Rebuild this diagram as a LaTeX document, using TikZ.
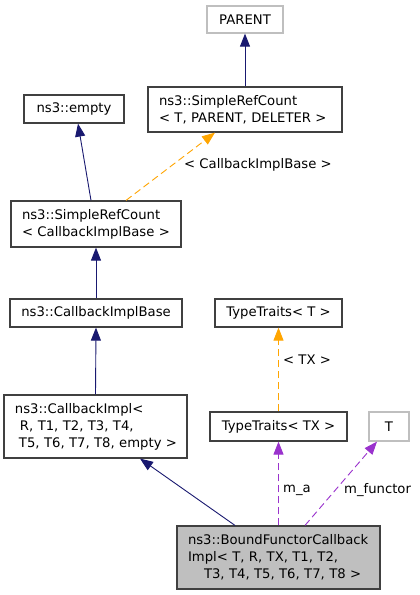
\documentclass[tikz,border=0pt]{standalone}
\usepackage{fontspec}
\setmainfont{DejaVu Sans}
\usetikzlibrary{arrows.meta,calc}
\definecolor{navy}{HTML}{191970}
\definecolor{orng}{HTML}{FFA500}
\definecolor{orchid}{HTML}{9A32CD}
\definecolor{boxline}{HTML}{404040}
\definecolor{lightline}{HTML}{BFBFBF}
\definecolor{focusfill}{HTML}{BFBFBF}
\tikzset{
  cls/.style={draw=boxline, line width=1.2pt, rectangle, inner xsep=0pt, inner ysep=0pt, align=center},
  clsml/.style={draw=boxline, line width=1.2pt, rectangle, inner xsep=11pt, inner ysep=0pt, align=left},
  ghost/.style={draw=lightline, line width=1.2pt, rectangle, inner sep=0pt, align=center},
  inh/.style={draw=navy, line width=0.9pt, -{Triangle[length=13pt,width=10pt]}, navy},
  tmpl/.style={draw=orng, line width=0.9pt, dash pattern=on 7pt off 4pt, -{Triangle[length=13pt,width=10pt,fill=orng]}},
  usage/.style={draw=orchid, line width=0.9pt, dash pattern=on 7pt off 4pt, -{Triangle[length=13pt,width=10pt,fill=orchid]}},
  lbl/.style={anchor=west, inner sep=0pt, font=\fontsize{13.2}{17}\selectfont},
}
\begin{document}
\begin{tikzpicture}[x=1pt,y=-1pt, font=\fontsize{13.2}{17}\selectfont]
\useasboundingbox (0,0) rectangle (420,595);
\fill[white] (0,0) rectangle (420,595);

\node[ghost, minimum width=76pt, minimum height=27pt] (parent) at (245,19.5) {PARENT};
\node[clsml, text width=172pt, minimum height=45pt] (srcT) at (245,109.5) {\mbox{ns3::SimpleRefCount}\\\mbox{< T, PARENT, DELETER >}};
\node[cls, minimum width=100pt, minimum height=28pt] (empty) at (74,109) {ns3::empty};
\node[clsml, text width=148pt, minimum height=46pt] (srcCB) at (96,224) {\mbox{ns3::SimpleRefCount}\\\mbox{< CallbackImplBase >}};
\node[cls, minimum width=172pt, minimum height=28pt] (cbbase) at (96,313) {ns3::CallbackImplBase};
\node[cls, minimum width=127pt, minimum height=28pt] (ttT) at (278.5,313) {TypeTraits< T >};
\node[clsml, text width=161pt, minimum height=63pt] (cbimpl) at (95.5,426.5) {\mbox{ns3::CallbackImpl<}\\\mbox{\hspace*{5pt}R, T1, T2, T3, T4,}\\\mbox{\hspace*{4pt}T5, T6, T7, T8, empty >}};
\node[cls, minimum width=137pt, minimum height=29pt] (ttTX) at (278.5,426.5) {TypeTraits< TX >};
\node[ghost, minimum width=40pt, minimum height=29pt] (tT) at (389,426.5) {T};
\node[clsml, fill=focusfill, text width=181pt, minimum height=63pt] (bound) at (278.5,557.5) {\mbox{ns3::BoundFunctorCallback}\\\mbox{Impl< T, R, TX, T1, T2,}\\\mbox{\hspace*{16pt}T3, T4, T5, T6, T7, T8 >}};

\draw[inh] (srcT.north) -- (parent.south);
\draw[inh] ([xshift=-5pt]srcCB.north) -- ([xshift=4pt]empty.south);
\draw[tmpl] ([xshift=30pt]srcCB.north) -- ([xshift=-30pt]srcT.south);
\draw[inh] (cbbase.north) -- (srcCB.south);
\draw[inh] (cbimpl.north) -- (cbbase.south);
\draw[inh] ([xshift=-43.5pt]bound.north) -- ([xshift=44.5pt]cbimpl.south);
\draw[tmpl] (ttTX.north) -- (ttT.south);
\draw[usage] (bound.north) -- (ttTX.south);
\draw[usage] ([xshift=26.5pt]bound.north) -- ([xshift=-12pt]tT.south);

\node[lbl] (lcb) at (184,165) {< CallbackImplBase >};
\node[lbl] (ltx) at (283,360) {< TX >};
\node[lbl] (lma) at (283,490) {m\_a};
\node[lbl] (lmf) at (344,490) {m\_functor};
\end{tikzpicture}
\end{document}
